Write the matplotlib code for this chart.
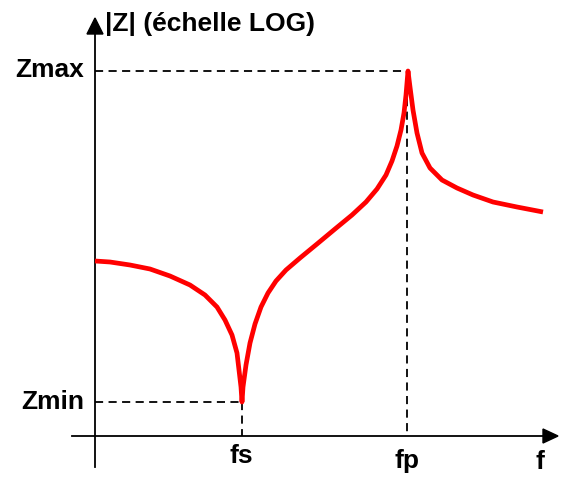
import matplotlib
matplotlib.use("Agg")
import matplotlib.pyplot as plt

# |Z| curve of a quartz crystal (pixel-like units, y downwards)
curve_x = [95, 110, 130, 150, 170, 190, 205, 217, 225, 232, 237, 239, 241, 242,
           243, 246, 250, 255, 261, 268, 276, 286, 300, 317, 335, 352, 366, 377, 386,
           392, 397, 401, 404, 406, 408,
           410, 413, 417, 422, 430, 442, 457, 473, 493, 517, 543]
curve_y = [261, 262, 265, 269, 276, 285, 295, 307, 320, 335, 353, 370, 387, 402,
           387, 365, 343, 324, 307, 293, 281, 270, 258, 244, 229, 215, 202, 189, 175,
           161, 146, 130, 113, 95, 71,
           87, 110, 133, 153, 168, 180, 188, 195, 202, 207, 212]

origin = (95, 436)
f_s, z_min = 242, 402
f_p, z_max = 407, 71

level_labels = ["Zmax", "Zmin"]
freq_labels = ["fs", "fp"]
title = "|Z| (échelle LOG)"

plt.rcParams["font.family"] = ["Liberation Sans", "DejaVu Sans"]

fig = plt.figure(figsize=(5.66, 4.78), dpi=100)
ax = fig.add_axes([0, 0, 1, 1])
ax.set_xlim(0, 566)
ax.set_ylim(478, 0)
ax.axis("off")

# axes with arrows
ax.plot([72, 545], [origin[1], origin[1]], color="black", lw=1.3)
ax.plot([origin[0], origin[0]], [467, 30], color="black", lw=1.3)
ax.fill([543, 558, 543], [origin[1] - 7, origin[1], origin[1] + 7], color="black")
ax.fill([origin[0] - 8, origin[0], origin[0] + 8], [34, 18, 34], color="black")

# dashed guides
dash = dict(color="black", lw=1.3, linestyle=(0, (4.5, 3)))
ax.plot([origin[0], f_p], [z_max, z_max], **dash)
ax.plot([f_p, f_p], [z_max, origin[1]], **dash)
ax.plot([origin[0], f_s], [z_min, z_min], **dash)
ax.plot([f_s, f_s], [z_min, origin[1]], **dash)

ax.plot(curve_x, curve_y, color="#ff0000", lw=3.4, solid_joinstyle="round",
        solid_capstyle="butt", zorder=3)

txt = dict(fontsize=19, fontweight="bold", color="black", va="baseline")
ax.text(84, 77, level_labels[0], ha="right", **txt)
ax.text(84, 409, level_labels[1], ha="right", **txt)
ax.text(f_s - 1, 463, freq_labels[0], ha="center", **txt)
ax.text(f_p, 468, freq_labels[1], ha="center", **txt)
ax.text(540, 469, "f", ha="center", **txt)
ax.text(105, 31, title, ha="left", **txt)

fig.savefig("out.png", dpi=100)
